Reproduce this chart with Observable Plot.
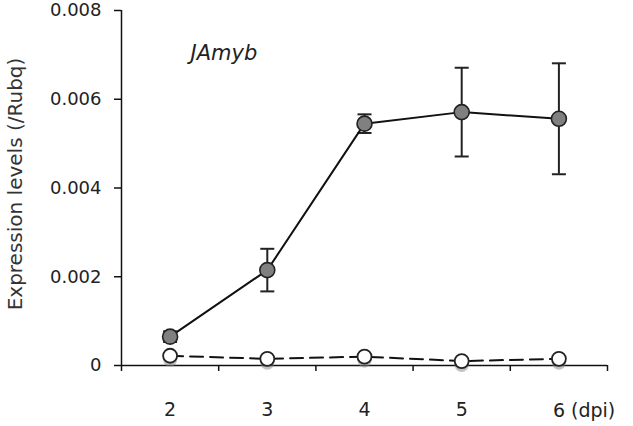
<!DOCTYPE html>
<html>
<head>
<meta charset="utf-8">
<script src="https://cdn.jsdelivr.net/npm/d3@7"></script>
<script src="https://cdn.jsdelivr.net/npm/@observablehq/plot@0.6"></script>
<style>
  html, body { margin: 0; padding: 0; background: #fff; }
  svg g[aria-label="shadow"] { filter: blur(2.5px); }
</style>
</head>
<body>
<div id="chart"></div>
<script>
// Data
const days = [2, 3, 4, 5, 6];
const infected = [0.00065, 0.00215, 0.00545, 0.00571, 0.00556];
const infectedErr = [0.00012, 0.00048, 0.00021, 0.00100, 0.00125];
const control = [0.00022, 0.00015, 0.00020, 0.00010, 0.00015];
const yTicks = [0, 0.002, 0.004, 0.006, 0.008];
const yTickLabels = ["0", "0.002", "0.004", "0.006", "0.008"];
const xBoundaries = [1.5, 2.5, 3.5, 4.5, 5.5, 6.5];
const geneName = "JAmyb";
const yLabel = "Expression levels (/Rubq)";
const unitLabel = "(dpi)";

const inf = days.map((d, i) => ({day: d, v: infected[i], lo: infected[i] - infectedErr[i], hi: infected[i] + infectedErr[i]}));
const ctl = days.map((d, i) => ({day: d, v: control[i]}));

const capSymbol = {
  draw(context, size) {
    const w = Math.sqrt(size / Math.PI);
    context.moveTo(-w, 0);
    context.lineTo(w, 0);
  }
};

const chart = Plot.plot({
  width: 633,
  height: 426,
  marginLeft: 121,
  marginRight: 26,
  marginTop: 10,
  marginBottom: 61,
  style: {fontFamily: "DejaVu Sans", fontSize: "18px", color: "#222", background: "#fff", overflow: "visible"},
  x: {type: "linear", domain: [1.5, 6.5], label: null},
  y: {domain: [0, 0.008], label: null},
  marks: [
    // axes
    Plot.axisX(xBoundaries, {tickSize: 6, tickFormat: () => "", stroke: "#111", strokeWidth: 1.5, label: null}),
    Plot.axisX(days, {tickSize: 0, tickPadding: 37, tickFormat: d => d === 6 ? "" : String(d), fill: "#222", fontSize: 19, label: null}),
    Plot.text(days.filter(d => d === 6), {x: d => d, text: d => d + " " + unitLabel, frameAnchor: "bottom", textAnchor: "start", lineAnchor: "middle", dx: -6, dy: 45, fill: "#222", fontSize: 19}),
    Plot.axisY(yTicks, {tickSize: 7, tickPadding: 13, tickFormat: (d, i) => yTickLabels[i], stroke: "#111", strokeWidth: 1.5, fill: "#222", fontSize: 18, label: null}),
    Plot.ruleY([0], {stroke: "#111", strokeWidth: 1.5}),
    Plot.ruleX([xBoundaries[0]], {stroke: "#111", strokeWidth: 1.5, y1: 0, y2: 0.008}),
    Plot.text([yLabel], {frameAnchor: "left", textAnchor: "middle", lineAnchor: "middle", rotate: -90, dx: -106, dy: -4, fill: "#333", fontSize: 20}),
    Plot.text([geneName], {frameAnchor: "top-left", textAnchor: "start", lineAnchor: "middle", dx: 69, dy: 43, fontStyle: "italic", fontSize: 21, fill: "#222"}),
    // control series (open circles, dashed)
    Plot.line(ctl, {x: "day", y: "v", stroke: "#111", strokeWidth: 2, strokeDasharray: "13,7"}),
    Plot.dot(ctl, {x: "day", y: "v", r: 7, fill: "#888", stroke: "none", dy: 4, fillOpacity: 0.5, ariaLabel: "shadow"}),
    Plot.dot(ctl, {x: "day", y: "v", r: 7, fill: "#fff", stroke: "#222", strokeWidth: 1.8}),
    // infected series (filled circles, solid, error bars)
    Plot.ruleX(inf, {x: "day", y1: "lo", y2: "hi", stroke: "#222", strokeWidth: 2}),
    Plot.dot(inf, {x: "day", y: "lo", r: 7, symbol: capSymbol, fill: "none", stroke: "#222", strokeWidth: 2}),
    Plot.dot(inf, {x: "day", y: "hi", r: 7, symbol: capSymbol, fill: "none", stroke: "#222", strokeWidth: 2}),
    Plot.line(inf, {x: "day", y: "v", stroke: "#111", strokeWidth: 2}),
    Plot.dot(inf, {x: "day", y: "v", r: 7.5, fill: "#808080", stroke: "#222", strokeWidth: 1.6})
  ]
});
document.getElementById("chart").appendChild(chart);
</script>
</body>
</html>
